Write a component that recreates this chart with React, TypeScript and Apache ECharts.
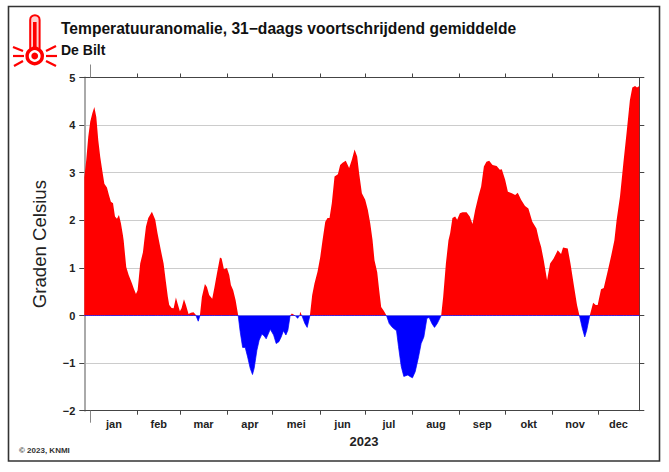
import React, { useEffect, useRef } from "react";
import * as echarts from "echarts";

const FONT = '"Liberation Sans", Arial, sans-serif';
const titleText = "Temperatuuranomalie, 31\u2212daags voortschrijdend gemiddelde";
const subtitleText = "De Bilt";
const yearText = "2023";
const copyrightText = "\u00a9 2023, KNMI";
const yName = "Graden Celsius";

const monthNames = ["jan", "feb", "mar", "apr", "mei", "jun", "jul", "aug", "sep", "okt", "nov", "dec"];
const monthTicks = [4, 35, 63, 94, 124, 155, 185, 216, 247, 277, 308, 338];
const monthCentres = [19.5, 49, 78.5, 109, 139.5, 170, 200.5, 231.5, 262, 292.5, 323, 351.6];
const yearTicks = [4];

const days = [
  0, 1.3, 2.6, 3.9, 5.3, 6.6, 7.9, 9.2, 10.5, 11.8, 13.2, 14.9, 16.2, 17.5, 18.9, 20.2, 21.5, 22.8, 24.1, 25.4, 25.9,
  27.6, 29.2, 31.4, 32.5, 34, 35.1, 36.8, 38.6, 39.5, 40.6, 42.1, 44.5, 46.7, 48.2, 49.1, 50.4, 52.2, 53.7, 55, 55.9,
  57.5, 58.8, 60.3, 61.4, 62.9, 64, 65.6, 66.9, 68.6, 70.2, 71.9, 73.5, 75, 76.1, 77.4, 79.4, 80.7, 82.2, 84.2, 85.7,
  87.3, 89.3, 90.4, 91.9, 93.9, 95.4, 96.5, 98, 99.6, 101.3, 102.6, 104.2, 105.9, 107.5, 109.2, 110.7, 111.8, 113.6,
  115.1, 116.9, 118.4, 119.7, 122.4, 124.6, 126.3, 128.1, 129.6, 131.1, 132.7, 134, 135.5, 136.6, 138.8, 140.4, 141.7,
  142.1, 143.2, 145.2, 146.7, 148.5, 150, 151.5, 153.5, 155.3, 156.8, 158.6, 160.1, 161.4, 162.9, 164.7,
  166.9, 168.4, 170, 172.1, 174.3, 176.1, 177.9, 179.6, 180.9, 182.7, 184.9, 186.6, 188.2, 189.7, 191, 192.8, 194.1,
  195.4, 197.1, 198.9, 200.7, 202.8, 205.5, 206.8, 208.6, 210.3, 213, 214.3, 216, 217.8, 220, 221.7, 223.5, 225.5,
  227, 228.8, 230.5, 232.3, 234.9, 236.2, 238, 239.7, 240.8, 242.3, 244.1, 245.4, 247.2, 249, 251.6, 253.7, 255.5,
  257.3, 259.4, 261.2, 263, 264.7, 266.5, 268.7, 271.4, 273.5, 274.8, 277, 278.8, 281.4, 283.6, 285.3, 287.5, 290.1,
  292.3, 294.9, 297.6, 299.3, 300.7, 302.4, 304.6, 306.6, 308.8, 311.6, 313.8, 315.1, 318.2, 320, 322.2, 324.3, 325.9,
  327.8, 329.4, 330.7, 332.7, 334.9, 336.6, 337.9, 340.1, 341.9, 344.9, 347.1, 348.9, 350.4, 352.6, 354.8, 356.9,
  359.1, 360.7, 362.5, 363.8, 365.3,
];
const anomalies = [
  2.9, 3.27, 3.75, 4.07, 4.25, 4.38, 4.17, 3.68, 3.33, 3.05, 2.77, 2.69, 2.53, 2.39, 2.36, 2.08, 2.03, 2.11, 1.94, 1.69, 1.58,
  1.02, 0.85, 0.67, 0.57, 0.45, 0.53, 1.09, 1.33, 1.58, 1.87, 2.05, 2.18, 2.01, 1.73, 1.58, 1.37, 1.09, 0.71, 0.39, 0.22,
  0.16, 0.15, 0.38, 0.25, 0.09, 0.15, 0.34, 0.22, 0.03, 0.06, 0.07, 0.01, -0.12, 0, 0.39, 0.66, 0.6, 0.43, 0.35, 0.6,
  0.88, 1.22, 1.2, 0.97, 1.0, 0.85, 0.64, 0.53, 0.32, 0, -0.34, -0.67, -0.67, -0.87, -1.11, -1.24, -1.11, -0.73,
  -0.52, -0.39, -0.43, -0.49, -0.29, -0.41, -0.59, -0.55, -0.45, -0.32, -0.41, -0.31, 0, 0.04, 0, -0.06, 0,
  0.08, 0, -0.17, -0.25, 0, 0.43, 0.67, 0.92, 1.23, 1.58, 1.97, 2.05, 2.05, 2.36, 2.92,
  2.97, 3.16, 3.21, 3.25, 3.1, 3.27, 3.49, 3.34, 2.99, 2.57, 2.43, 2.22, 1.94, 1.59, 1.16, 0.91, 0.53,
  0.18, 0.1, 0, -0.17, -0.25, -0.32, -0.65, -1.07, -1.28, -1.25, -1.28, -1.31, -1.18, -0.87, -0.59, -0.45, -0.06,
  -0.04, -0.17, -0.25, -0.17, 0, 0.39, 1.09, 1.58, 1.73, 2.05, 2.08, 2.01, 2.15, 2.17, 2.17, 2.08, 1.92,
  2.22, 2.5, 2.71, 3.13, 3.23, 3.25, 3.16, 3.14, 3.06, 3.07, 2.85, 2.6, 2.57, 2.53, 2.58, 2.43, 2.3,
  2.25, 1.97, 1.83, 1.59, 1.44, 1.16, 0.74, 1.09, 1.19, 1.37, 1.29, 1.43, 1.41, 1.09, 0.64, 0.22, 0,
  -0.27, -0.45, -0.31, 0, 0.27, 0.22, 0.22, 0.55, 0.58, 0.99, 1.3, 1.58, 2.01, 2.5, 3.2, 3.83,
  4.52, 4.79, 4.82, 4.79, 4.82,
];

const DARK = "#444";
const RED = "#ff0000";
const BLUE = "#0000ff";

const rays = [
  [13, 47, 23, 51], [13, 56, 24, 56], [14, 66, 23, 61],
  [46, 51, 56, 46], [46, 56, 57, 56], [46, 61, 56, 66],
];

export default function App() {
  const ref = useRef<HTMLDivElement>(null);
  useEffect(() => {
    const chart = echarts.init(ref.current!, undefined, { renderer: "svg" });
    const upper = days.map((d, i) => [d, Math.max(anomalies[i], 0)]);
    const lower = days.map((d, i) => [d, Math.min(anomalies[i], 0)]);
    const hidden = { show: false };
    const xBase = { type: "value", min: 0, max: 365.3, splitLine: hidden };
    const noLine = { show: false, onZero: false };
    chart.setOption({
      animation: false,
      backgroundColor: "#fff",
      textStyle: { fontFamily: FONT },
      grid: { left: 84.3, right: 29.7, top: 77.5, bottom: 61.3, containLabel: false },
      title: [
        { text: titleText, left: 61, top: 20, padding: 0, textStyle: { fontFamily: FONT, fontSize: 15.6, fontWeight: "bold", color: "#111" } },
        { text: subtitleText, left: 61, top: 43, padding: 0, textStyle: { fontFamily: FONT, fontSize: 14, fontWeight: "bold", color: "#111" } },
      ],
      xAxis: [
        {
          ...xBase, position: "bottom",
          axisLine: { show: true, onZero: false, lineStyle: { color: DARK, width: 1 } },
          axisTick: { show: true, length: 4, customValues: monthTicks, lineStyle: { color: DARK } },
          axisLabel: {
            show: true, customValues: monthCentres, margin: 8, fontSize: 11, fontWeight: "bold", fontFamily: FONT, color: "#222",
            formatter: (v: number) => monthNames[monthCentres.indexOf(v)] ?? "",
          },
        },
        {
          ...xBase, position: "top",
          axisLine: { show: true, onZero: false, lineStyle: { color: DARK, width: 1 } },
          axisTick: { show: true, length: 4, customValues: monthTicks, lineStyle: { color: DARK } },
          axisLabel: hidden,
        },
        {
          ...xBase, position: "bottom", axisLine: noLine, axisLabel: hidden,
          axisTick: { show: true, length: 12, customValues: yearTicks, lineStyle: { color: "#888" } },
        },
        {
          ...xBase, position: "top", axisLine: noLine, axisLabel: hidden,
          axisTick: { show: true, length: 13, customValues: yearTicks, lineStyle: { color: "#888" } },
        },
      ],
      yAxis: [
        {
          type: "value", min: -2, max: 5, interval: 1, position: "left",
          name: yName, nameLocation: "middle", nameGap: 35, nameRotate: 90,
          nameTextStyle: { fontFamily: FONT, fontSize: 18.6, color: "#222" },
          axisLine: { show: true, onZero: false, lineStyle: { color: "#aaa", width: 2 } },
          axisTick: { show: true, length: 5, lineStyle: { color: DARK } },
          axisLabel: {
            margin: 9, fontSize: 11, fontWeight: "bold", fontFamily: FONT, color: "#222",
            formatter: (v: number) => String(v).replace("-", "\u2212"),
          },
          splitLine: { show: true, lineStyle: { color: "#ccc", width: 1 } },
        },
        {
          type: "value", min: -2, max: 5, interval: 1, position: "right",
          axisLine: { show: true, onZero: false, lineStyle: { color: DARK, width: 1 } },
          axisTick: { show: true, length: 5, lineStyle: { color: DARK } },
          axisLabel: hidden, splitLine: hidden,
        },
      ],
      series: [
        {
          type: "line", data: upper, showSymbol: false, xAxisIndex: 0, yAxisIndex: 0,
          lineStyle: { width: 0, color: RED }, itemStyle: { color: RED }, areaStyle: { color: RED, opacity: 1, origin: 0 },
        },
        {
          type: "line", data: lower, showSymbol: false, xAxisIndex: 0, yAxisIndex: 0,
          lineStyle: { width: 0.7, color: BLUE }, itemStyle: { color: BLUE }, areaStyle: { color: BLUE, opacity: 1, origin: 0 },
        },
      ],
      graphic: [
        { type: "rect", shape: { x: 8.5, y: 6.5, width: 651, height: 454.5 }, style: { fill: "none", stroke: "#333", lineWidth: 1.6 }, z: 0 },
        { type: "text", x: 364, y: 441, style: { text: yearText, font: `bold 13px ${FONT}`, fill: "#222", textAlign: "center", textVerticalAlign: "middle" } },
        { type: "text", x: 19, y: 450, style: { text: copyrightText, font: `bold 8px ${FONT}`, fill: "#333", textAlign: "left", textVerticalAlign: "middle" } },
        { type: "rect", shape: { x: 30.2, y: 15.2, width: 9.4, height: 38, r: 4.7 }, style: { fill: "#ffd0d0", stroke: RED, lineWidth: 2 } },
        { type: "rect", shape: { x: 33, y: 22, width: 3.6, height: 30 }, style: { fill: RED } },
        { type: "circle", shape: { cx: 34.7, cy: 56, r: 7.6 }, style: { fill: "#fff", stroke: RED, lineWidth: 3.4 } },
        { type: "circle", shape: { cx: 34.7, cy: 56, r: 3.4 }, style: { fill: RED } },
        ...rays.map(([x1, y1, x2, y2]) => ({
          type: "line", shape: { x1, y1, x2, y2 }, style: { stroke: RED, lineWidth: 2.2 },
        })),
      ],
    });
    return () => chart.dispose();
  }, []);
  return <div ref={ref} style={{ position: "absolute", left: 0, top: 0, width: 669, height: 472 }} />;
}
